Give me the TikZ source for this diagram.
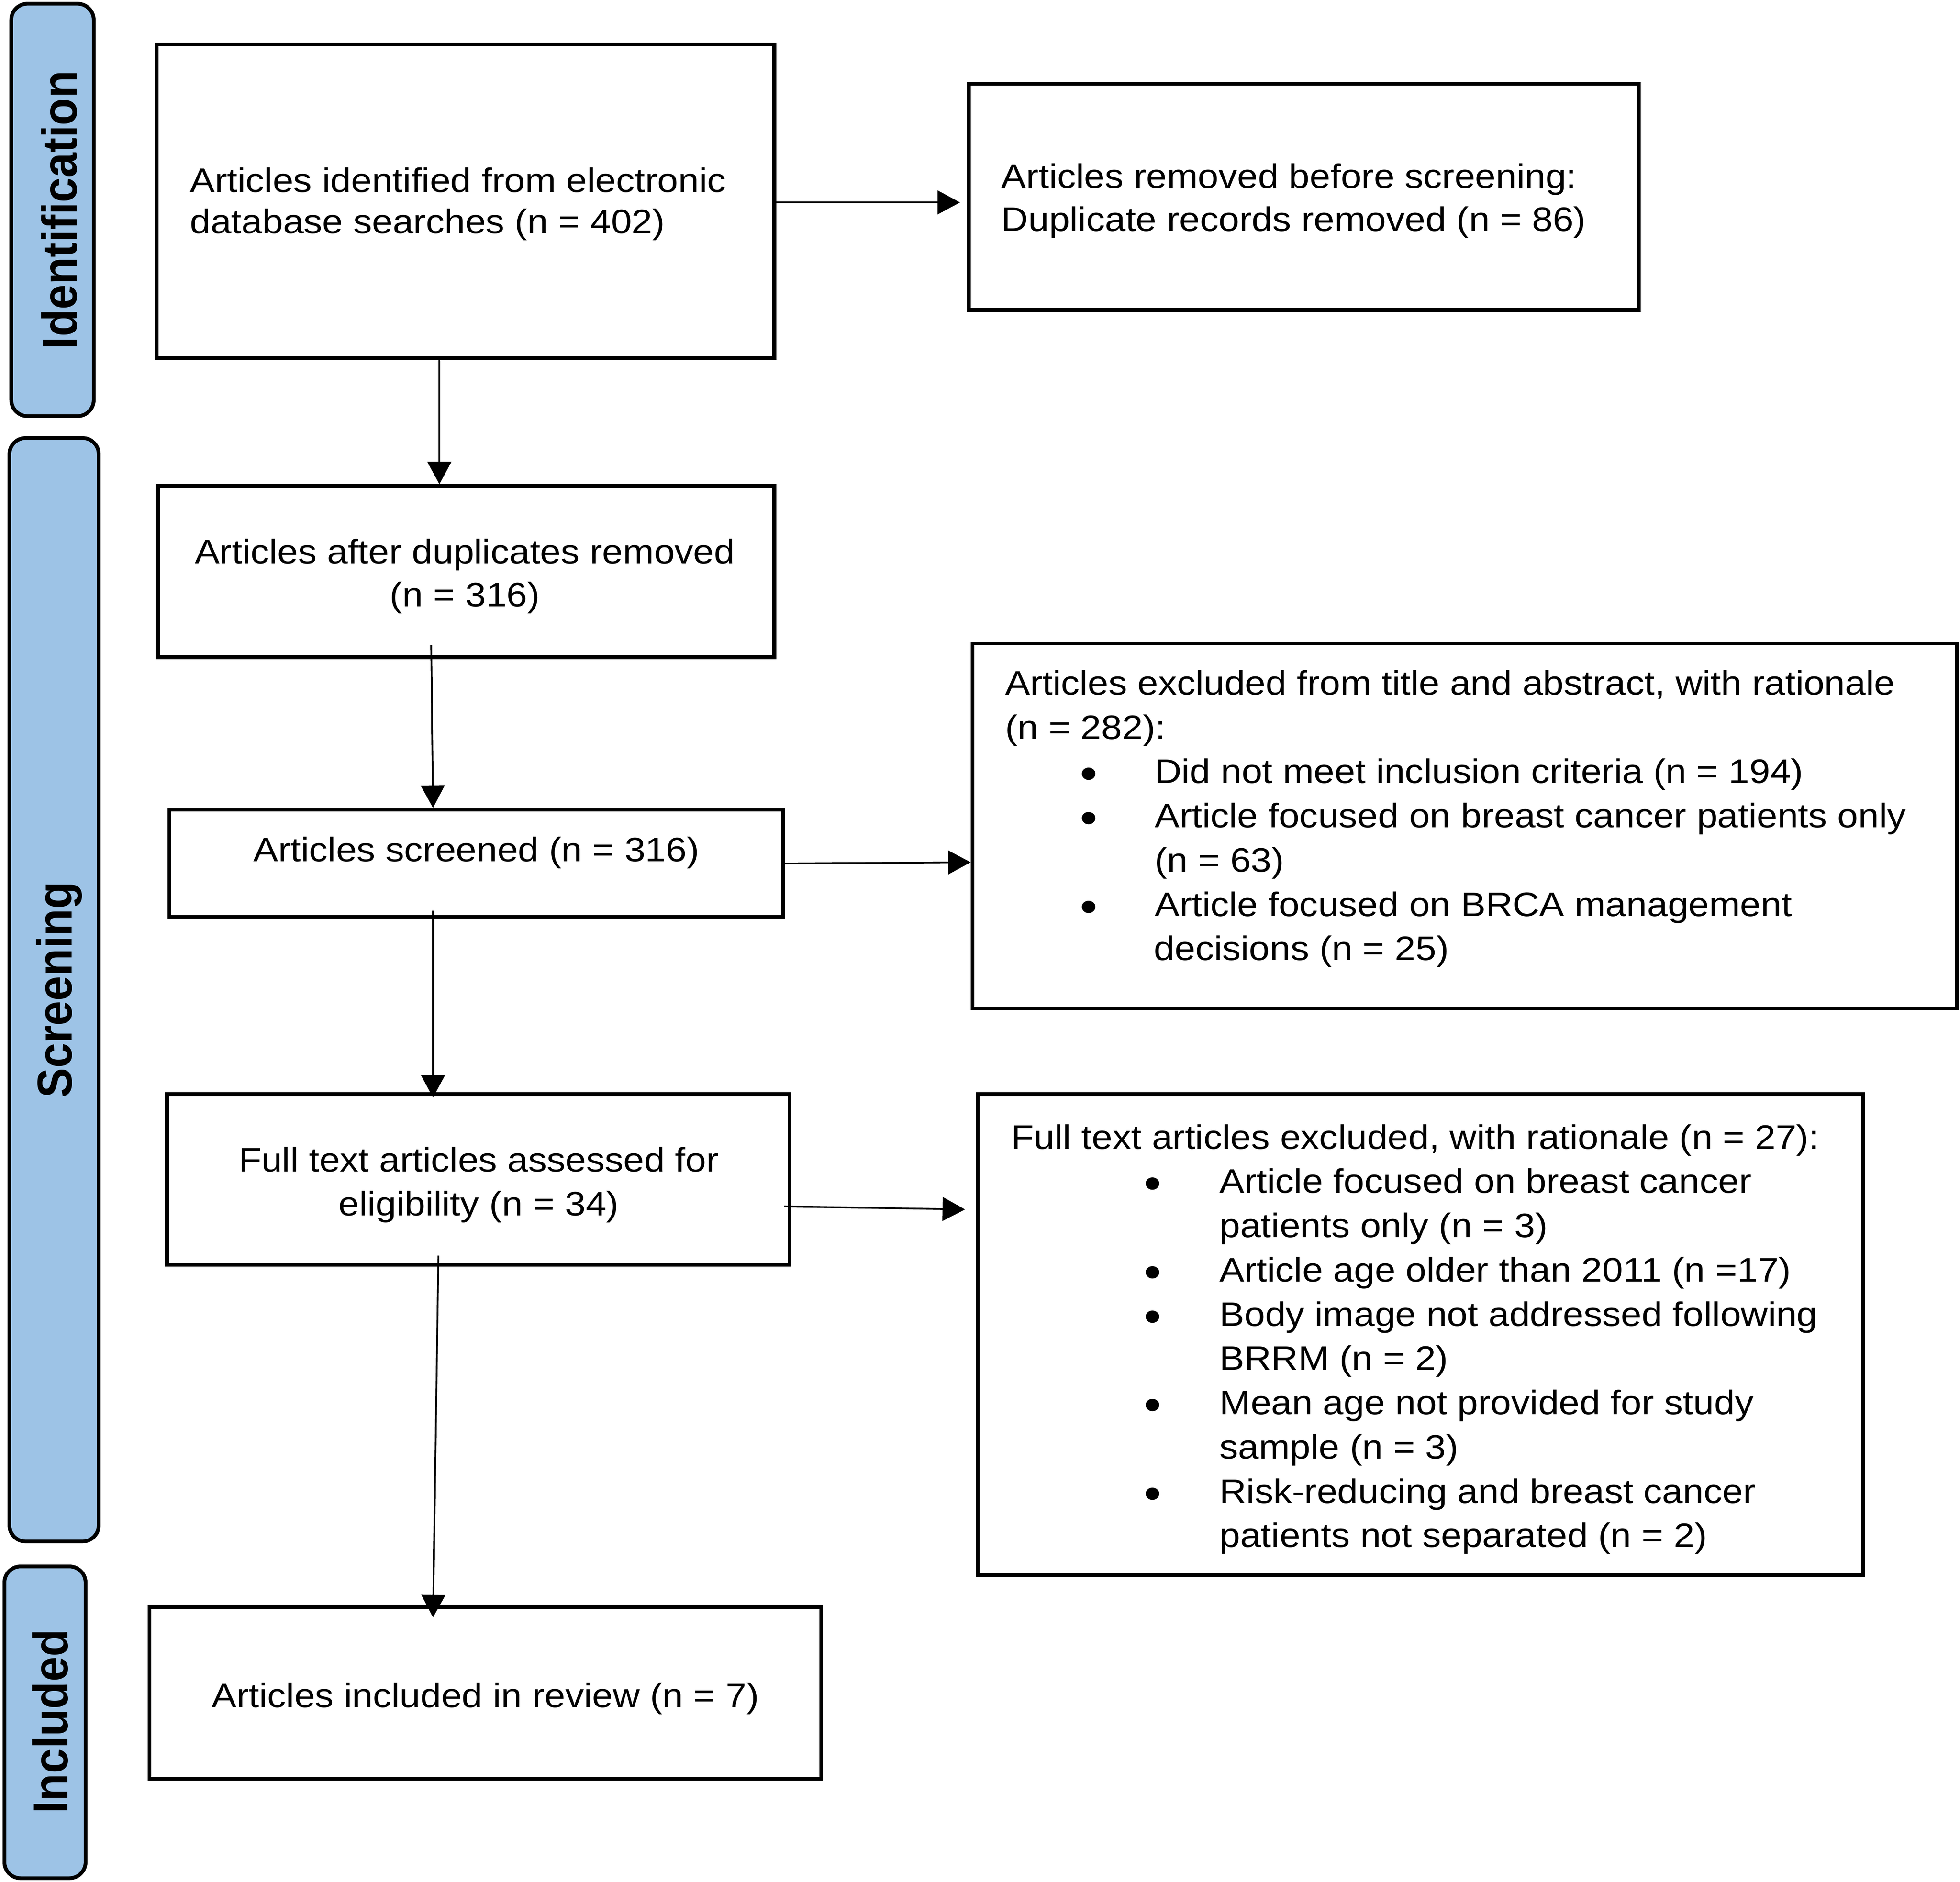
\documentclass[tikz,border=0pt]{standalone}
\usepackage{fontspec}
\usepackage{graphicx}
\setmainfont{Liberation Sans}[FakeStretch=1.095]
\newfontfamily\lblfont{Liberation Sans}
\usetikzlibrary{arrows.meta}
\definecolor{lblblue}{RGB}{157,195,230}
\newcommand\bigdot{\raisebox{-4.7pt}{\scalebox{1.34}{•}}}
\newcommand\gbul{\hspace*{59.9pt}\makebox[59.7pt][l]{\bigdot}}
\newcommand\hbul{\hspace*{106.2pt}\makebox[60.5pt][l]{\bigdot}}
\begin{document}
\begin{tikzpicture}[x=1pt,y=-1pt,
  box/.style={draw, line width=3pt, rectangle, inner sep=0pt},
  lbl/.style={draw, line width=3pt, fill=lblblue, rounded corners=13pt, rectangle, inner sep=0pt},
  lbltxt/.style={rotate=90, anchor=base, inner sep=0pt, font=\lblfont\bfseries\fontsize{35.8}{40}\selectfont},
  txtl/.style={anchor=base west, inner sep=0pt},
  txtc/.style={anchor=base, inner sep=0pt},
  arr/.style={line width=1.4pt, -{Triangle[length=18pt,width=19pt]}}
]
\useasboundingbox (0,0) rectangle (1568,1506);

% stage labels
\node[lbl, minimum width=66pt, minimum height=330pt] (L1) at (42,168) {};
\node[lbl, minimum width=71.5pt, minimum height=883pt] (L2) at (43.25,792) {};
\node[lbl, minimum width=65pt, minimum height=249.5pt] (L3) at (36,1378.25) {};
\node[lbltxt] (t1) at (61.6,168.1) {\scalebox{1}[1.095]{Identification}};
\node[lbltxt] (t2) at (57.6,792) {\scalebox{1}[1.095]{Screening}};
\node[lbltxt] (t3) at (54.1,1377.6) {\scalebox{1}[1.095]{Included}};

% boxes
\node[box, minimum width=494pt, minimum height=251pt] (A) at (372.5,161) {};
\node[box, minimum width=536pt, minimum height=181pt] (B) at (1043,157.5) {};
\node[box, minimum width=493pt, minimum height=137pt] (C) at (373,457.5) {};
\node[box, minimum width=491pt, minimum height=86pt] (D) at (381,691) {};
\node[box, minimum width=498pt, minimum height=136.5pt] (E) at (382.5,943.75) {};
\node[box, minimum width=537.5pt, minimum height=137.5pt] (F) at (388.25,1354.75) {};
\node[box, minimum width=787.5pt, minimum height=292pt] (G) at (1171.75,661) {};
\node[box, minimum width=708pt, minimum height=385pt] (H) at (1136.5,1068) {};

% texts
\node[txtl, font=\fontsize{27.2}{33}\selectfont] (tA) at (151.8,153.7) {\begin{tabular}[t]{@{}l@{}}Articles identified from electronic\\database searches (n = 402)\end{tabular}};
\node[txtl, font=\fontsize{27.2}{34.3}\selectfont] (tB) at (801,150.6) {\begin{tabular}[t]{@{}l@{}}Articles removed before screening:\\Duplicate records removed (n = 86)\end{tabular}};
\node[txtc, font=\fontsize{27.2}{34.5}\selectfont] (tC) at (371.9,450.8) {\begin{tabular}[t]{@{}c@{}}Articles after duplicates removed\\(n = 316)\end{tabular}};
\node[txtc, font=\fontsize{27.2}{34.5}\selectfont] (tD) at (381.1,689.5) {Articles screened (n = 316)};
\node[txtc, font=\fontsize{27.2}{35.1}\selectfont] (tE) at (383,937.6) {\begin{tabular}[t]{@{}c@{}}Full text articles assessed for\\eligibility (n = 34)\end{tabular}};
\node[txtc, font=\fontsize{27.2}{34.5}\selectfont] (tF) at (388.3,1366.4) {Articles included in review (n = 7)};
\node[txtl, font=\fontsize{27.2}{35.4}\selectfont] (tG) at (804,556.1) {\begin{tabular}[t]{@{}l@{}}
Articles excluded from title and abstract, with rationale\\
(n = 282):\\
\gbul Did not meet inclusion criteria (n = 194)\\
\gbul Article focused on breast cancer patients only\\
\hspace*{119.6pt}(n = 63)\\
\gbul Article focused on BRCA management\\
\hspace*{119pt}decisions (n = 25)
\end{tabular}};
\node[txtl, font=\fontsize{27.2}{35.42}\selectfont] (tH) at (808.8,919.4) {\begin{tabular}[t]{@{}l@{}}
Full text articles excluded, with rationale (n = 27):\\
\hbul Article focused on breast cancer\\
\hspace*{166.7pt}patients only (n = 3)\\
\hbul Article age older than 2011 (n =17)\\
\hbul Body image not addressed following\\
\hspace*{166.7pt}BRRM (n = 2)\\
\hbul Mean age not provided for study\\
\hspace*{166.7pt}sample (n = 3)\\
\hbul Risk-reducing and breast cancer\\
\hspace*{166.7pt}patients not separated (n = 2)
\end{tabular}};

% connectors
\draw[arr] ([yshift=-1pt]A.east) -- ([xshift=-5.5pt,yshift=-4.5pt]B.west);
\draw[arr] ([xshift=-21pt]A.south) -- ([xshift=-21.5pt]C.north);
\draw[arr] ([xshift=-28pt,yshift=11.2pt]C.south) -- ([xshift=-34.6pt]D.north);
\draw[arr] (D.east) -- ([yshift=-29pt]G.west);
\draw[arr] ([xshift=-34.6pt,yshift=6.9pt]D.south) -- ([xshift=-36.1pt,yshift=-4.3pt]E.north);
\draw[arr] ([xshift=-5.7pt,yshift=-21.65pt]E.east) -- ([xshift=-9pt,yshift=100.2pt]H.west);
\draw[arr] ([xshift=-31.8pt,yshift=8.8pt]E.south) -- ([xshift=-41.85pt,yshift=-9.8pt]F.north);
\end{tikzpicture}
\end{document}
